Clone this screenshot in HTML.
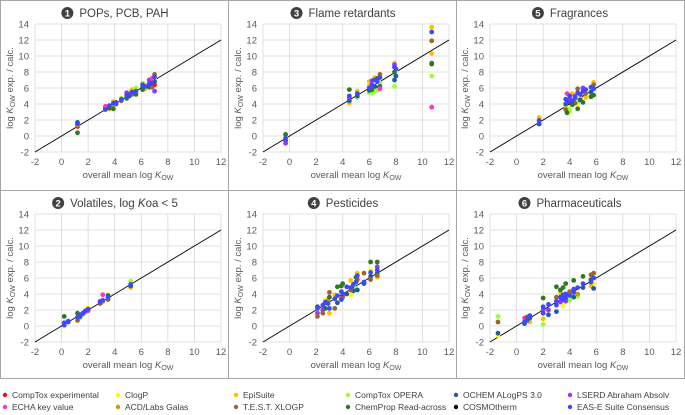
<!DOCTYPE html>
<html><head><meta charset="utf-8">
<style>
body{margin:0;background:#fff;font-family:"Liberation Sans",sans-serif;}
svg{display:block}
</style></head>
<body>
<svg id="chart" width="685" height="415" viewBox="0 0 685 415" xmlns="http://www.w3.org/2000/svg" font-family="Liberation Sans, sans-serif"></svg>
<script>
const seriesNames=["CompTox experimental","ClogP","EpiSuite","CompTox OPERA","OCHEM ALogPS 3.0","LSERD Abraham Absolv","ECHA key value","ACD/Labs Galas","T.E.S.T. XLOGP","ChemProp Read-across","COSMOtherm","EAS-E Suite Consensus"];
const seriesColors=["#e8121c","#ffff00","#ffc000","#99ff33","#1f5c9e","#9933ff","#ff33cc","#c89b00","#996633","#2e7a1f","#000000","#3f48ff"];
const panelTitles=["POPs, PCB, PAH","Flame retardants","Fragrances","Volatiles, log Koa < 5","Pesticides","Pharmaceuticals"];
const panelNumbers=["1","3","5","2","4","6"];
const xTicks=[-2,0,2,4,6,8,10,12];
const yTicks=[-2,0,2,4,6,8,10,12,14];
const pPOP=[[1.2,1.7,4],[1.2,1.2,0],[1.2,1.4,2],[1.2,0.4,9],[1.2,1.5,11],[3.3,3.7,6],[3.3,3.5,4],[3.3,3.3,11],[3.6,3.5,9],[3.6,3.4,2],[3.6,3.8,11],[3.9,3.9,7],[3.9,4.3,2],[3.9,3.4,9],[3.9,4.1,11],[4.1,4.0,4],[4.1,4.2,11],[4.5,4.4,8],[4.5,4.7,3],[4.5,4.6,11],[4.9,5.4,5],[4.9,4.7,9],[4.9,5.2,2],[4.9,5.0,11],[5.1,5.0,4],[5.1,5.5,1],[5.1,5.2,11],[5.3,5.8,2],[5.3,5.2,8],[5.3,5.5,11],[5.6,6.0,3],[5.6,5.2,9],[5.6,5.6,11],[6.1,6.1,4],[6.1,5.8,9],[6.1,6.6,3],[6.1,6.4,11],[6.3,6.4,1],[6.3,5.9,2],[6.3,6.2,11],[6.6,7.0,5],[6.6,6.3,3],[6.6,6.1,4],[6.6,6.5,11],[6.8,7.2,6],[6.8,6.1,8],[6.8,6.6,11],[7.0,7.7,8],[7.0,6.4,0],[7.0,5.6,5],[7.0,6.8,4],[7.0,7.1,3],[7.0,7.4,11]];
const pFlame=[[-0.3,0.2,9],[-0.3,0.0,2],[-0.3,-0.6,4],[-0.3,-0.9,5],[-0.3,-0.1,3],[-0.3,-0.3,11],[4.5,5.8,9],[4.5,4.4,4],[4.5,4.1,2],[4.5,4.8,5],[4.5,5.0,11],[5.1,5.6,2],[5.1,4.8,3],[5.1,5.0,4],[5.1,5.3,11],[6.0,5.7,4],[6.0,6.3,2],[6.0,5.4,3],[6.0,6.8,2],[6.0,6.0,11],[6.2,5.8,9],[6.2,6.9,5],[6.2,5.4,3],[6.2,6.4,11],[6.4,6.2,4],[6.4,7.3,2],[6.4,5.6,3],[6.4,7.0,11],[6.6,7.2,9],[6.6,6.0,0],[6.6,5.7,3],[6.6,6.8,11],[6.8,7.7,8],[6.8,6.2,4],[6.8,5.9,6],[6.8,6.6,3],[6.8,7.3,11],[7.9,9.1,2],[7.9,7.0,4],[7.9,8.0,9],[7.9,6.2,3],[7.9,8.9,5],[7.9,8.6,11],[8.0,7.5,4],[8.0,8.0,1],[8.0,8.4,11],[10.7,13.6,2],[10.7,11.9,8],[10.7,10.3,2],[10.7,9.1,9],[10.7,9.0,4],[10.7,7.5,3],[10.7,3.6,6],[10.7,13.0,11]];
const pFrag=[[1.7,2.3,2],[1.7,1.5,4],[1.7,2.0,7],[1.7,1.9,11],[3.7,4.0,4],[3.7,3.7,3],[3.7,3.3,8],[3.7,4.6,11],[3.8,5.3,6],[3.8,2.9,9],[3.8,3.6,1],[3.8,4.2,11],[4.0,4.6,5],[4.0,3.2,3],[4.0,3.0,1],[4.0,4.3,4],[4.0,5.0,11],[4.2,5.3,2],[4.2,3.9,9],[4.2,4.4,11],[4.4,5.0,5],[4.4,4.1,8],[4.4,4.8,11],[4.6,5.9,8],[4.6,4.3,3],[4.6,3.4,9],[4.6,4.0,1],[4.6,5.4,11],[4.8,4.7,2],[4.8,4.5,4],[4.8,5.2,11],[5.0,6.0,5],[5.0,4.2,9],[5.0,5.6,11],[5.2,5.3,8],[5.2,4.8,2],[5.2,5.8,11],[5.6,5.5,4],[5.6,4.9,9],[5.6,5.0,3],[5.6,6.1,11],[5.8,6.7,2],[5.8,6.4,8],[5.8,5.1,9],[5.8,5.9,11]];
const pVol=[[0.2,1.2,9],[0.2,0.2,4],[0.2,0.4,11],[0.2,0.1,11],[0.5,0.5,4],[0.5,0.6,11],[1.2,1.6,9],[1.2,0.7,8],[1.2,1.1,11],[1.4,1.0,3],[1.4,1.2,4],[1.4,1.4,11],[1.6,1.5,8],[1.6,1.6,11],[1.8,1.7,2],[1.8,1.9,11],[2.0,2.3,1],[2.0,1.9,6],[2.0,2.1,11],[2.9,3.1,6],[2.9,2.8,8],[2.9,3.0,11],[3.1,3.9,6],[3.1,3.0,2],[3.1,3.2,11],[3.5,3.9,1],[3.5,3.3,8],[3.5,3.8,4],[3.5,3.6,11],[5.2,5.6,3],[5.2,4.8,2],[5.2,5.0,4],[5.2,5.2,11]];
const pPest=[[2.1,2.4,4],[2.1,1.2,8],[2.1,1.6,5],[2.1,2.2,11],[2.5,1.6,8],[2.5,2.0,5],[2.5,2.6,11],[2.7,2.9,4],[2.7,3.3,1],[2.7,2.2,9],[2.7,3.0,11],[2.9,3.2,7],[2.9,2.8,11],[3.0,4.2,8],[3.0,3.6,9],[3.0,1.6,2],[3.0,2.2,11],[3.4,2.2,8],[3.4,3.9,2],[3.4,3.4,11],[3.6,4.9,9],[3.6,2.9,4],[3.6,3.8,11],[3.9,5.0,9],[3.9,3.5,7],[3.9,4.3,11],[3.9,3.3,11],[4.0,5.3,9],[4.0,3.6,8],[4.0,4.0,11],[4.3,4.0,4],[4.3,4.9,11],[4.6,5.7,2],[4.6,4.5,8],[4.6,3.9,1],[4.6,4.8,11],[4.8,4.4,4],[4.8,5.2,11],[5.0,6.1,9],[5.0,4.7,3],[5.0,5.5,11],[5.1,6.6,2],[5.1,4.5,4],[5.1,5.8,8],[5.1,6.3,11],[5.6,6.6,8],[5.6,5.3,4],[5.6,5.5,11],[6.1,8.0,9],[6.1,5.8,8],[6.1,6.2,4],[6.1,7.0,1],[6.1,6.7,11],[6.6,8.0,9],[6.6,7.4,5],[6.6,6.3,8],[6.6,6.1,2],[6.6,6.6,4],[6.6,7.0,11]];
const pPharm=[[-1.4,1.2,3],[-1.4,0.5,8],[-1.4,-0.9,4],[-1.4,-1.2,1],[0.6,1.0,6],[0.6,0.3,4],[0.6,0.5,11],[0.8,1.1,9],[0.8,0.9,5],[0.8,0.7,11],[1.0,0.5,2],[1.0,1.0,4],[1.0,1.3,11],[2.0,3.5,9],[2.0,0.9,2],[2.0,0.2,3],[2.0,2.0,5],[2.0,2.4,11],[2.0,1.6,11],[2.4,1.4,4],[2.4,2.0,5],[2.4,2.7,11],[3.0,4.9,9],[3.0,1.8,4],[3.0,3.6,8],[3.0,3.1,11],[3.0,2.6,11],[3.3,4.5,9],[3.3,3.0,5],[3.3,4.1,2],[3.3,3.6,11],[3.5,4.8,9],[3.5,2.5,1],[3.5,3.3,11],[3.5,3.9,11],[3.7,5.3,9],[3.7,3.1,5],[3.7,4.0,11],[3.7,3.5,11],[4.0,4.3,8],[4.0,3.2,3],[4.0,3.8,11],[4.3,5.7,9],[4.3,3.6,4],[4.3,4.6,11],[4.3,4.2,11],[4.6,4.0,7],[4.6,3.7,3],[4.6,4.8,11],[5.0,6.2,9],[5.0,4.8,4],[5.0,5.3,11],[5.6,6.4,8],[5.6,5.0,2],[5.6,5.8,9],[5.6,5.5,11],[5.8,6.6,8],[5.8,4.7,4],[5.8,5.3,1],[5.8,6.0,11]];
const panelData=[pPOP,pFlame,pFrag,pVol,pPest,pPharm];

const NS="http://www.w3.org/2000/svg";
const svg=document.getElementById('chart');
function mk(tag,attrs,parent){const e=document.createElementNS(NS,tag);for(const k in attrs)e.setAttribute(k,attrs[k]);(parent||svg).appendChild(e);return e;}
const colX=[0,228,455], rowY=[0,190];
const L=35,R=221,T=24,B=152;
function xs(v){return L+(v+2)*(R-L)/14;}
function ys(v){return T+(14-v)*(B-T)/16;}
const slugs=["pops-pcb-pah","flame-retardants","fragrances","volatiles","pesticides","pharmaceuticals"];
// borders
const frame=mk('rect',{x:0.5,y:0.5,width:684,height:378,fill:'none',stroke:'#a6a6a6','stroke-width':1});


[[228,0,228,378],[456,0,456,378],[0,190,685,190]].forEach(l=>{const d=mk('line',{x1:l[0]+0.5,y1:l[1]+0.5,x2:l[2]+0.5,y2:l[3]+0.5,stroke:'#a6a6a6'});

});

for(let i=0;i<6;i++){
  const ox=colX[i%3], oy=rowY[Math.floor(i/3)];
  const g=mk('g',{transform:`translate(${ox},${oy})`});
  
  
  // grid
  xTicks.forEach(t=>{const l=mk('line',{x1:xs(t),x2:xs(t),y1:T,y2:B,stroke:'#d9d9d9','stroke-width':0.8},g);
    
    
    const tx=mk('text',{x:xs(t),y:B+13,'font-size':9.5,fill:'#595959','text-anchor':'middle'},g);tx.textContent=t;
    
    });
  yTicks.forEach(t=>{const l=mk('line',{x1:L,x2:R,y1:ys(t),y2:ys(t),stroke:'#d9d9d9','stroke-width':0.8},g);
    
    
    const tx=mk('text',{x:L-6,y:ys(t)+3.5,'font-size':9.5,fill:'#595959','text-anchor':'end'},g);tx.textContent=t;
    
    });
  // axis titles
  const xt=mk('text',{x:(L+R)/2,y:B+26,'font-size':9.5,fill:'#595959','text-anchor':'middle'},g);
  xt.innerHTML='overall mean log <tspan font-style="italic">K</tspan><tspan font-size="7" dy="2">OW</tspan>';
  
  
  const yt=mk('text',{transform:`translate(13,${(T+B)/2}) rotate(-90)`,'font-size':9.5,fill:'#595959','text-anchor':'middle'},g);
  yt.innerHTML='log <tspan font-style="italic">K</tspan><tspan font-size="7" dy="2">OW</tspan><tspan dy="-2"> exp. / calc.</tspan>';
  
  
  // title
  const tg=mk('g',{},g);
  
  
  const tt=mk('text',{x:124,y:17,'font-size':11.5,fill:'#404040','text-anchor':'middle'},tg);
  if(i===3){tt.innerHTML='Volatiles, log <tspan font-style="italic">K</tspan>oa &lt; 5';}else tt.textContent=panelTitles[i];
  const w=tt.getComputedTextLength?tt.getComputedTextLength():80;
  const cx=124-w/2-12;
  mk('circle',{cx:cx,cy:13,r:6,fill:'#404040'},tg);
  const n=mk('text',{x:cx,y:16.5,'font-size':9.5,'font-weight':'bold',fill:'#fff','text-anchor':'middle'},tg);n.textContent=panelNumbers[i];
  // 1:1 line
  const dl=mk('line',{x1:xs(-2),y1:ys(-2),x2:xs(12),y2:ys(12),stroke:'#000','stroke-width':0.9},g);
  
  
  // points
  const pts=panelData[i].slice().sort((a,b)=>a[2]-b[2]);
  pts.forEach(p=>{const c=mk('circle',{cx:xs(p[0]),cy:ys(p[1]),r:2.4,fill:seriesColors[p[2]]},g);
    
    });
}
// legend
const legX=[3,116,234,346,454,568];
const legY=[398,410];
const legOrder=[[0,6],[1,7],[2,8],[3,9],[4,10],[5,11]];
legOrder.forEach((pair,ci)=>pair.forEach((s,ri)=>{
  const g=mk('g',{});
  
  
  mk('circle',{cx:legX[ci]+2,cy:legY[ri]-3,r:2.2,fill:seriesColors[s]},g);
  const t=mk('text',{x:legX[ci]+9,y:legY[ri],'font-size':8.5,fill:'#404040'},g);t.textContent=seriesNames[s];
}));
</script>
</body></html>
